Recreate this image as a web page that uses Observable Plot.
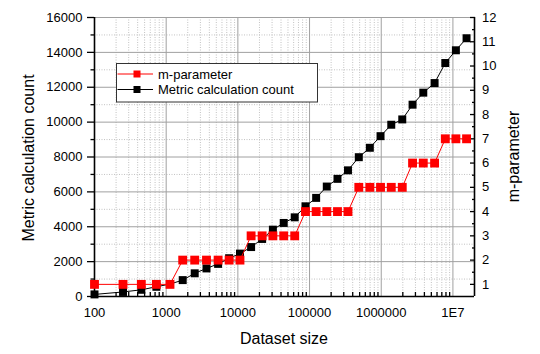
<!DOCTYPE html>
<html><head><meta charset="utf-8">
<script src="https://cdn.jsdelivr.net/npm/d3@7"></script>
<script src="https://cdn.jsdelivr.net/npm/@observablehq/plot@0.6"></script>
<style>
body{margin:0;background:#fff;}
#wrap{position:relative;width:540px;height:354px;font-family:"Liberation Sans",Arial,sans-serif;}
#legend{position:absolute;left:116px;top:63px;}
</style></head><body><div id="wrap"></div>
<script>
// ---- data ----
const sizes = [100, 250, 450, 730, 1130, 1700, 2500, 3650, 5300, 7550, 10700, 15300, 21800, 30800, 43600, 62100, 87700, 123600, 173900, 245300, 343600, 486500, 693400, 977700, 1380000, 1965000, 2735000, 3860000, 5550000, 7830000, 11000000, 15500000];
const metricCounts = [120, 260, 385, 557, 713, 940, 1330, 1610, 1870, 2195, 2460, 2835, 3300, 3833, 4218, 4540, 5172, 5655, 6305, 6747, 7235, 7989, 8529, 9195, 9850, 10155, 11000, 11690, 12241, 13390, 14120, 14810];
const mParameter = [1, 1, 1, 1, 1, 2, 2, 2, 2, 2, 2, 3, 3, 3, 3, 3, 4, 4, 4, 4, 4, 5, 5, 5, 5, 5, 6, 6, 6, 7, 7, 7];

const xMajorTicks = [100, 1000, 10000, 100000, 1000000, 10000000];
const xTickLabels = ["100", "1000", "10000", "100000", "1000000", "1E7"];
const leftTicks = [0, 2000, 4000, 6000, 8000, 10000, 12000, 14000, 16000];
const leftMinorTicks = [1000, 3000, 5000, 7000, 9000, 11000, 13000, 15000];
const rightTicks = [1, 2, 3, 4, 5, 6, 7, 8, 9, 10, 11, 12];
const rightMinorTicks = [1.5, 2.5, 3.5, 4.5, 5.5, 6.5, 7.5, 8.5, 9.5, 10.5, 11.5];
const xDomain = [100, 2e7];
const leftDomain = [0, 16000];
const rightDomain = [0.5, 12];

// ---- derived ----
const xMinorTicks = [];
for (const d of [100, 1000, 10000, 100000, 1000000, 10000000])
  for (let k = 2; k <= 9; k++) if (d * k < xDomain[1]) xMinorTicks.push(d * k);
const xLabel = new Map(xMajorTicks.map((d, i) => [d, xTickLabels[i]]));
const mScale = d3.scaleLinear().domain(rightDomain).range(leftDomain);
const rightLabel = new Map(rightTicks.map(d => [mScale(d), String(d)]));
const data = sizes.map((s, i) => ({size: s, count: metricCounts[i], m: mParameter[i], mY: mScale(mParameter[i])}));

const font = '"Liberation Sans", Arial, sans-serif';
const chart = Plot.plot({
  width: 540, height: 354,
  marginLeft: 94, marginRight: 66, marginTop: 17, marginBottom: 58,
  style: {fontFamily: font, fontSize: "13px", color: "#000", background: "#fff"},
  x: {type: "log", domain: xDomain},
  y: {domain: leftDomain},
  marks: [
    Plot.gridX(xMinorTicks, {stroke: "#c2c2c2", strokeOpacity: 1, strokeDasharray: "1,1.5"}),
    Plot.gridY(leftMinorTicks, {stroke: "#c2c2c2", strokeOpacity: 1, strokeDasharray: "1,1.5"}),
    Plot.gridX(xMajorTicks, {stroke: "#a0a0a0", strokeOpacity: 1}),
    Plot.gridY(leftTicks, {stroke: "#a0a0a0", strokeOpacity: 1}),
    Plot.ruleX([xDomain[0]], {stroke: "#000", strokeWidth: 1.6}),
    Plot.ruleX([xDomain[1]], {stroke: "#000", strokeWidth: 1.6}),
    Plot.ruleY([leftDomain[0]], {stroke: "#000", strokeWidth: 1.6}),
    // left axis
    Plot.axisY(leftTicks, {anchor: "left", tickSize: 7, tickPadding: 5, tickFormat: d => String(d), label: null, strokeWidth: 1.3}),
    Plot.axisY(leftMinorTicks, {anchor: "left", tickSize: 3.5, tickFormat: () => "", label: null, strokeWidth: 1.3}),
    // right axis (m-parameter)
    Plot.axisY(rightTicks.map(d => mScale(d)), {anchor: "right", tickSize: 0, tickPadding: 7.5, tickFormat: d => rightLabel.get(d), label: null}),
    Plot.axisY(rightTicks.map(d => mScale(d)), {anchor: "right", tickSize: -5, tickFormat: () => "", label: null, strokeWidth: 1.3}),
    Plot.axisY(rightMinorTicks.map(d => mScale(d)), {anchor: "right", tickSize: -3, tickFormat: () => "", label: null, strokeWidth: 1.3}),
    // bottom axis
    Plot.axisX(xMajorTicks, {anchor: "bottom", tickSize: 0, tickPadding: 11, tickFormat: d => xLabel.get(d), label: null}),
    Plot.axisX(xMinorTicks, {anchor: "bottom", tickSize: -4, tickFormat: () => "", label: null, strokeWidth: 1.3}),
    // series
    Plot.line(data, {x: "size", y: "count", stroke: "#000", strokeWidth: 1}),
    Plot.dot(data, {x: "size", y: "count", symbol: "square", r: 4.5, fill: "#000", stroke: "none"}),
    Plot.line(data, {x: "size", y: "mY", stroke: "#ff0000", strokeWidth: 1}),
    Plot.dot(data, {x: "size", y: "mY", symbol: "square", r: 5, fill: "#ff0000", stroke: "none"})
  ]
});

const svg = d3.select(chart);
svg.append("text").attr("x", 284).attr("y", 343.5).attr("text-anchor", "middle")
  .attr("font-size", 16).attr("fill", "#000").text("Dataset size");
svg.append("text").attr("transform", "translate(33.5,158) rotate(-90)").attr("text-anchor", "middle")
  .attr("font-size", 16).attr("fill", "#000").text("Metric calculation count");
svg.append("text").attr("transform", "translate(518.5,156.5) rotate(-90)").attr("text-anchor", "middle")
  .attr("font-size", 16).attr("fill", "#000").text("m-parameter");

const wrap = document.getElementById("wrap");
wrap.appendChild(chart);

// legend
const series = [
  {name: "m-parameter", color: "#ff0000"},
  {name: "Metric calculation count", color: "#000"}
];
const leg = d3.select(wrap).append("svg").attr("id", "legend").attr("width", 203).attr("height", 40);
leg.append("rect").attr("x", 0.5).attr("y", 0.5).attr("width", 201).attr("height", 38.5)
  .attr("fill", "#fff").attr("stroke", "#333").attr("stroke-width", 1);
series.forEach((s, i) => {
  const cy = 11 + i * 15.5;
  const g = leg.append("g");
  g.append("line").attr("x1", 1.5).attr("x2", 37).attr("y1", cy).attr("y2", cy).attr("stroke", s.color).attr("stroke-width", 1);
  g.append("rect").attr("x", 17.5).attr("y", cy - 3.5).attr("width", 7).attr("height", 7).attr("fill", s.color);
  g.append("text").attr("x", 42).attr("y", cy + 4.7).attr("font-size", 13).attr("font-family", font).attr("fill", "#000").text(s.name);
});
</script></body></html>
